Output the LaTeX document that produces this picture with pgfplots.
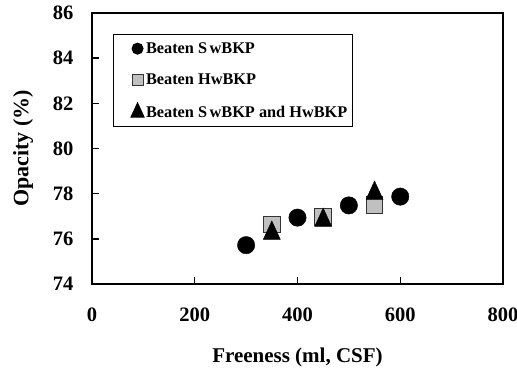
\documentclass[border=0pt]{standalone}
\usepackage{fontspec}
\setmainfont{Liberation Serif}
\usepackage{pgfplots}
\pgfplotsset{compat=1.18}
\definecolor{sqgray}{HTML}{C0C0C0}
\begin{document}
\begin{tikzpicture}
\begin{axis}[
  scale only axis, width=411pt, height=271pt,
  xmin=0, xmax=800, ymin=74, ymax=86,
  xtick={0,200,400,600,800}, ytick={74,76,78,80,82,84,86},
  tick align=inside, major tick length=7pt,
  xtick pos=left, ytick pos=left,
  axis line style={line width=2pt},
  tick style={line width=1.4pt, black},
  /pgf/number format/assume math mode=true,
  ticklabel style={font=\bfseries\fontsize{20.5}{24}\selectfont},
  xticklabel style={yshift=-20pt},
  yticklabel style={xshift=-15pt},
  xlabel={Freeness (ml, CSF)},
  ylabel={Opacity (\%)},
  xlabel style={font=\bfseries\fontsize{21}{25}\selectfont, at={(axis description cs:0.5,0)}, anchor=center, yshift=-73pt},
  ylabel style={font=\bfseries\fontsize{22}{26}\selectfont, at={([xshift=-69pt]axis description cs:0,0.5)}, anchor=center},
  legend style={at={(rel axis cs:0.05,0.9225)}, anchor=north west, draw=black, line width=1pt,
    font=\bfseries\fontsize{16.3}{19}\selectfont, row sep=15pt, inner xsep=3pt, inner ysep=6pt},
  legend cell align=left,
]
\addplot[only marks, mark=*, mark size=8.7pt, black,
  legend image code/.code={\draw[black, only marks, mark=*, mark size=5.5pt] plot coordinates {(0pt,0pt)}; \path (-21pt,0pt) (6pt,0pt);}]
  coordinates {(300,75.72) (400,76.94) (500,77.48) (600,77.87)};
\addlegendentry{Beaten S\kern2.5pt wBKP}
\addplot[only marks, mark=square*, mark size=8.2pt, mark options={fill=sqgray, draw=black!80, line width=1pt},
  legend image code/.code={\draw[only marks, mark=square*, mark size=5.5pt, mark options={fill=sqgray, draw=black!80, line width=0.8pt}] plot coordinates {(0pt,0pt)}; \path (-21pt,0pt) (6pt,0pt);}]
  coordinates {(350,76.63) (450,76.96) (550,77.5)};
\addlegendentry{Beaten HwBKP}
\addplot[only marks, mark=triangle*, mark size=9.8pt, black, mark options={yscale=1.25}, 
  legend image code/.code={\draw[black, only marks, mark=triangle*, mark size=7.5pt] plot coordinates {(0pt,0pt)}; \path (-21pt,0pt) (6pt,0pt);}]
  coordinates {(350,76.25) (450,76.82) (550,78.02)};
\addlegendentry{Beaten S\kern2.5pt wBKP and HwBKP}
\end{axis}
\pgfresetboundingbox
\path[use as bounding box] ([xshift=-92pt,yshift=-91pt]current axis.south west) rectangle ([xshift=14pt,yshift=13pt]current axis.north east);
\end{tikzpicture}
\end{document}
